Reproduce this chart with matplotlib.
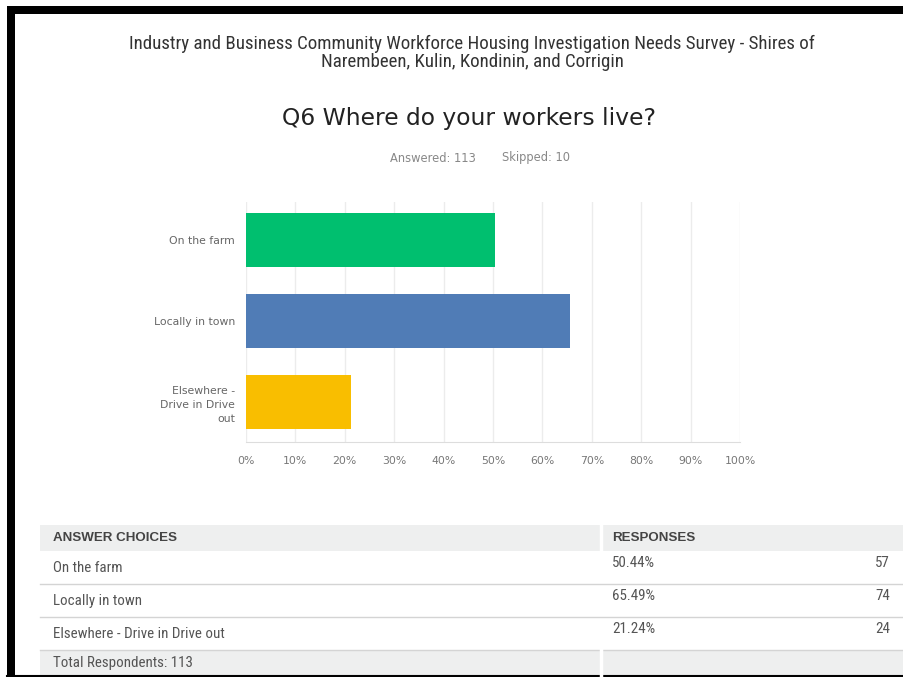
import matplotlib.pyplot as plt
from matplotlib import font_manager
from matplotlib.patches import Rectangle
from matplotlib.lines import Line2D

W, H = 904, 677

choices = ['On the farm', 'Locally in town', 'Elsewhere - Drive in Drive out']
bar_labels = ['On the farm', 'Locally in town', 'Elsewhere -\nDrive in Drive\nout']
percents = [50.44, 65.49, 21.24]
counts = [57, 74, 24]
bar_colors = ['#00bf6f', '#507cb6', '#f9be00']
x_ticks = [0, 10, 20, 30, 40, 50, 60, 70, 80, 90, 100]
answered = 113
skipped = 10
total_respondents = 113

survey_title = ('Industry and Business Community Workforce Housing Investigation Needs Survey - Shires of\n'
                'Narembeen, Kulin, Kondinin, and Corrigin')
question = 'Q6 Where do your workers live?'

# pick a narrow face if one is around
installed = {f.name for f in font_manager.fontManager.ttflist}
narrow = 'Liberation Sans'
for cand in ['Liberation Sans Narrow', 'Roboto Condensed', 'Open Sans Condensed', 'DejaVu Sans Condensed']:
    if cand in installed:
        narrow = cand
        break


def fx(px):
    return px / W


def fy(py):
    return 1 - py / H


fig = plt.figure(figsize=(W / 100, H / 100), dpi=100)
fig.patch.set_facecolor('white')

# frame round the page
fig.patches.append(Rectangle((fx(7), fy(14)), fx(W - 7), 8 / H, transform=fig.transFigure,
                             facecolor='black', edgecolor='none'))
fig.patches.append(Rectangle((fx(7), fy(677)), 8 / W, fy(14) - fy(677), transform=fig.transFigure,
                             facecolor='black', edgecolor='none'))
fig.add_artist(Line2D([fx(7), 1], [fy(676), fy(676)], transform=fig.transFigure, color='black', lw=1.5))

# headings
fig.text(fx(472), fy(53), survey_title, ha='center', va='center', fontsize=13.6,
         family=narrow, color='#333333', linespacing=0.95)
fig.text(fx(469), fy(118), question, ha='center', va='center', fontsize=16.8, color='#222222')
fig.text(fx(433), fy(158), 'Answered: %d' % answered, ha='center', va='center', fontsize=8.3, color='#888888')
fig.text(fx(536), fy(158), 'Skipped: %d' % skipped, ha='center', va='center', fontsize=8.3, color='#888888')

# bar chart
ax = fig.add_axes([fx(246), fy(442), fx(740) - fx(246), (442 - 202) / H])
ypos = list(range(len(percents)))
ax.barh(ypos, percents, height=0.667, color=bar_colors, zorder=3)
ax.set_xlim(0, 100)
ax.set_ylim(2.49, -0.47)
ax.set_xticks(x_ticks)
ax.set_xticklabels(['%d%%' % t for t in x_ticks])
ax.set_yticks(ypos)
ax.set_yticklabels(bar_labels, linespacing=1.5)
ax.grid(axis='x', color='#ececec', lw=1, zorder=0)
for s in ['top', 'right', 'left']:
    ax.spines[s].set_visible(False)
ax.spines['bottom'].set_color('#dddddd')
ax.tick_params(axis='x', length=0, pad=10, labelsize=7.8, labelcolor='#777777')
ax.tick_params(axis='y', length=0, pad=8, labelsize=7.8, labelcolor='#666666')

# response table
tab_left, tab_mid, tab_right = 40, 601, 904
row_edges = [525, 551, 584, 617, 650, 677]
fig.patches.append(Rectangle((fx(tab_left), fy(551)), fx(tab_right - tab_left), 26 / H,
                             transform=fig.transFigure, facecolor='#eeefef', edgecolor='none'))
fig.patches.append(Rectangle((fx(tab_left), fy(677)), fx(tab_right - tab_left), 27 / H,
                             transform=fig.transFigure, facecolor='#eeefef', edgecolor='none'))
for y in row_edges[2:5]:
    fig.add_artist(Line2D([fx(tab_left), fx(tab_right)], [fy(y), fy(y)], transform=fig.transFigure,
                          color='#d4d4d4', lw=1))
for (y0, y1) in [(525, 551), (650, 677)]:
    fig.add_artist(Line2D([fx(tab_mid), fx(tab_mid)], [fy(y0), fy(y1)], transform=fig.transFigure,
                          color='white', lw=2.5))

tfont = narrow
fig.text(fx(53), fy(538), 'ANSWER CHOICES', fontsize=9.6, weight='bold', family='Liberation Sans',
         color='#444444', va='center')
fig.text(fx(612), fy(538), 'RESPONSES', fontsize=9.6, weight='bold', family='Liberation Sans',
         color='#444444', va='center')
for i, name in enumerate(choices):
    top = row_edges[i + 1]
    fig.text(fx(53), fy(top + 17), name, fontsize=10.8, family=tfont, color='#555555', va='center')
    fig.text(fx(612), fy(top + 12), '%.2f%%' % percents[i], fontsize=10.8, family=tfont,
             color='#555555', va='center')
    fig.text(fx(890), fy(top + 12), str(counts[i]), fontsize=10.8, family=tfont,
             color='#555555', va='center', ha='right')
fig.text(fx(53), fy(663), 'Total Respondents: %d' % total_respondents, fontsize=10.8, family=tfont,
         color='#555555', va='center')

fig.savefig('out.png', dpi=100)
